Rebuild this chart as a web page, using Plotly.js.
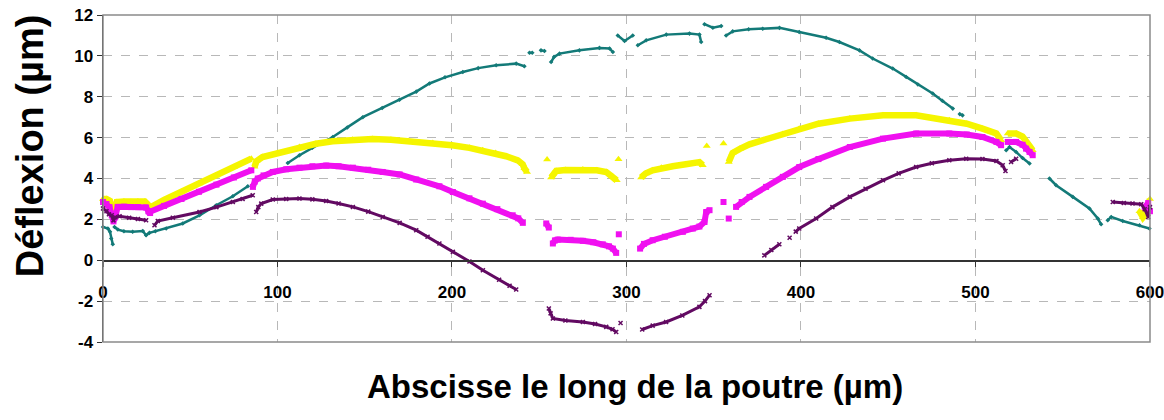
<!DOCTYPE html>
<html>
<head>
<meta charset="utf-8">
<script src="https://cdn.plot.ly/plotly-3.0.1.min.js"></script>
<style>html,body{margin:0;padding:0;background:#fff;}#chart{width:1164px;height:420px;}</style>
</head>
<body>
<div id="chart"></div>
<script>
// ---- Data (null separates disjoint point groups) ----
const yellowX = [0,2,4,5,6,7,8,12,16,20,24,25.5,27, 27.5,35,45,55,65,75,85, null,
  86.8,88,91.4,100,112.6,122,131.6,143,154.5,165,175,189,200,210,217.6,225,231,237.7,240.5,241.5,243, null,
  254.5, null,
  256.8,258,259.7,265,275,283,288.4,292,294.4, null,
  295.4, null,
  308.4,311,315,320,326.5,334,341.8,343.7, null,
  346, null, 355.6, null,
  358.6,360.8,365,370.5,380,389.6,399,410,428,447,466,485,495,504,512,514.7, null,
  518.5,523.3,527,529,531,532.8, null,
  594,596,598,600];
const yellowY = [3.0,3.0,2.9,2.5,2.2,2.3,2.85,2.88,2.85,2.88,2.87,2.75,2.55, 2.6,2.95,3.35,3.75,4.15,4.55,4.97, null,
  4.57,4.85,5.05,5.25,5.54,5.7,5.82,5.9,5.93,5.9,5.83,5.74,5.63,5.5,5.38,5.25,5.09,4.89,4.7,4.5,4.32, null,
  4.93, null,
  4.05,4.25,4.37,4.42,4.44,4.4,4.32,4.11,3.91, null,
  4.94, null,
  4.05,4.25,4.4,4.52,4.6,4.7,4.8,4.65, null,
  5.59, null, 5.71, null,
  4.81,5.25,5.45,5.67,5.92,6.18,6.44,6.68,6.93,7.09,7.09,6.85,6.68,6.44,6.2,5.87, null,
  6.2,6.2,6.05,5.87,5.6,5.38, null,
  2.4,2.1,2.3,3.0];

const magentaX = [0,2,3.7,5,6,7,8.4,12,16,20,24.7,26,27, 26.6,35,45,55,65,75,85, null,
  85.9,87,88.7,92,97.3,105,112.6,120,127.9,135,143.2,152,160.3,170,179.5,192.8,200.5,210,217.7,226,234.8,238,240.6, null,
  254,255.5, null,
  257.8,259,260.6,268,275,281,286.4,290,292.2,294.1, null,
  295.6, null,
  307.8,310,315,322,332.3,338,341.8,344.7,345.7,347.6, null,
  355.6, null, 358.6, null,
  362.8,366,370.5,380,389.6,399,410,428,447,466,485,495,504,512,514.7, null,
  518.5,523.3,527,529,531,532.8, null,
  597,599,600];
const magentaY = [2.85,2.75,2.6,2.2,1.9,2.1,2.61,2.62,2.6,2.6,2.58,2.4,2.31, 2.36,2.66,3.0,3.35,3.7,4.05,4.4, null,
  3.59,3.85,4.0,4.15,4.32,4.45,4.53,4.6,4.63,4.6,4.53,4.43,4.32,4.2,3.95,3.62,3.34,3.03,2.77,2.5,2.2,2.05,1.83, null,
  1.8,1.6, null,
  0.82,0.97,1.01,1.0,0.95,0.88,0.78,0.68,0.57,0.36, null,
  1.27, null,
  0.57,0.8,0.98,1.15,1.39,1.55,1.65,1.87,2.36,2.45, null,
  2.85, null, 2.04, null,
  2.61,2.85,3.1,3.59,4.08,4.56,4.95,5.54,5.95,6.2,6.2,6.15,6.03,5.79,5.63, null,
  5.79,5.79,5.65,5.46,5.3,5.14, null,
  2.6,2.8,2.4];

const purpleX = [0,2,3.4,5,6,7,9.5,15,20,24.7, null,
  29.5,31.4,40,55.3,65,74.4,80,85.8, null,
  87.8,89,90.7,97.3,105,112.6,120,127.9,135,143.2,152,160.3,170,179.5,186,192.8,200.5,210,217.7,227,233,236.8, null,
  255.5,256.5,257.8,265,275,282,288.4,292,294.1, null,
  296.6, null,
  309,315,322.7,332,341.8,345,347.6, null,
  379,383,387.6, null,
  393.5, null,
  397,399,408.7,418,428,437,447,456,466,475,485,494.7,504,512,515.6,517.2, null,
  520.4,523.3, null,
  578.7,585,590,595,597,599,600];
const purpleY = [2.53,2.4,2.25,2.2,1.95,2.1,2.15,2.08,2.02,1.96, null,
  1.71,1.92,2.08,2.36,2.6,2.85,3.0,3.18, null,
  2.36,2.6,2.77,2.97,3.0,3.02,2.98,2.9,2.78,2.61,2.38,2.12,1.83,1.47,1.15,0.82,0.41,-0.06,-0.49,-0.95,-1.25,-1.43, null,
  -2.36,-2.6,-2.85,-2.95,-3.02,-3.12,-3.26,-3.38,-3.51, null,
  -3.07, null,
  -3.39,-3.2,-3.02,-2.7,-2.28,-2.0,-1.71, null,
  0.24,0.5,0.78, null,
  1.1, null,
  1.4,1.55,2.04,2.6,3.1,3.5,3.91,4.25,4.56,4.75,4.89,4.97,4.95,4.86,4.65,4.37, null,
  4.81,4.97, null,
  2.85,2.8,2.78,2.74,2.5,2.12,2.6];

const tealX = [0,2.8,4,4.7,5.6, null,
  6.6,8.5,12,17,22.8,24.7,26.6,30,36.2,45.7,55.3,64.9,74.4,83, null,
  105.9,112.6,120,131.7,140,148.9,160,169.9,179.5,187.1,196,206.2,215,225.3,236.8,241.5, null,
  244.4,246, null, 251,253, null,
  256.8,258.5,261.6,273,284.5,290.3,292.2, null,
  295,298.9,303.6, null,
  306.5,311.3,322.8,336.1,341.8,342.8, null,
  344.7,349.5,354.3, null,
  357.1,360.9,370,378.1,387.7,399,414.4,422,433.5,441.1,452.6,460.3,467,475.5,481,487, null,
  491,492.6, null,
  517.6,519.5,523.3,527,531, null,
  542.4,546.2,555.8,565.3,570.1,572, null,
  575.8,577.8,584.4,594,599.7];
const tealY = [1.63,1.55,1.4,1.06,0.78, null,
  1.63,1.5,1.42,1.39,1.43,1.22,1.34,1.42,1.55,1.8,2.2,2.69,3.13,3.62, null,
  4.76,5.14,5.5,6.03,6.5,7.0,7.45,7.85,8.25,8.65,8.95,9.21,9.4,9.54,9.62,9.49, null,
  10.15,10.15, null, 10.27,10.24, null,
  9.7,9.95,10.11,10.27,10.39,10.36,10.19, null,
  11.0,10.73,11.0, null,
  10.52,10.76,11.04,11.09,11.04,10.68, null,
  11.55,11.38,11.46, null,
  11.0,11.2,11.3,11.33,11.37,11.17,10.89,10.68,10.27,9.87,9.38,8.97,8.6,8.16,7.8,7.42, null,
  7.15,7.09, null,
  5.38,5.54,5.3,5.0,4.73, null,
  4.0,3.67,3.1,2.53,2.04,1.76, null,
  1.96,2.12,1.92,1.71,1.55];

const xTicks = [0,100,200,300,400,500,600];
const yTicks = [-4,-2,0,2,4,6,8,10,12];
const xTitle = 'Abscisse le long de la poutre (µm)';
const yTitle = 'Déflexion (µm)';

// ---- Traces ----
const traces = [
  {x: tealX, y: tealY, mode: 'lines+markers', connectgaps: false, cliponaxis: false,
   line: {color: '#137a78', width: 2.5}, marker: {symbol: 'diamond', size: 3.5, color: '#137a78'}, name: 't'},
  {x: yellowX, y: yellowY, mode: 'lines+markers', connectgaps: false, cliponaxis: false,
   line: {color: '#f5f500', width: 6.5}, marker: {symbol: 'triangle-up', size: 7, color: '#f5f500'}, name: 'y'},
  {x: magentaX, y: magentaY, mode: 'lines+markers', connectgaps: false, cliponaxis: false,
   line: {color: '#f010f0', width: 6}, marker: {symbol: 'square', size: 6, color: '#f010f0'}, name: 'm'},
  {x: purpleX, y: purpleY, mode: 'lines+markers', connectgaps: false, cliponaxis: false,
   line: {color: '#620a62', width: 3}, marker: {symbol: 'x-thin-open', size: 4, color: '#620a62', line: {color: '#620a62', width: 1.5}}, name: 'p'}
];

const tickFont = {family: 'Liberation Sans, Arial, sans-serif', size: 17, color: '#000', weight: 'bold'};

const layout = {
  width: 1164, height: 420,
  margin: {l: 103, r: 14, t: 15, b: 78, pad: 0},
  paper_bgcolor: '#fff', plot_bgcolor: '#fff',
  showlegend: false,
  font: {family: 'Liberation Sans, Arial, sans-serif', color: '#000'},
  xaxis: {
    range: [0, 600.02], tickvals: xTicks, ticktext: xTicks.map(String),
    anchor: 'free', position: 0.25,
    showline: true, linecolor: '#333', linewidth: 1.5,
    ticks: 'outside', ticklen: 5, tickcolor: '#333',
    ticklabelstandoff: 11, ticklabeloverflow: 'allow',
    showgrid: true, gridcolor: '#b8b8b8', griddash: 'dash', gridwidth: 1,
    zeroline: false,
    tickfont: tickFont
  },
  yaxis: {
    range: [-4, 12], tickvals: yTicks, ticktext: yTicks.map(String),
    showline: true, linecolor: '#333', linewidth: 1.5,
    ticks: 'outside', ticklen: 5, tickcolor: '#333',
    showgrid: true, gridcolor: '#b8b8b8', griddash: 'dash', gridwidth: 1,
    zeroline: true, zerolinecolor: '#333', zerolinewidth: 1.5,
    tickfont: tickFont
  },
  shapes: [
    {type: 'rect', xref: 'paper', yref: 'paper', x0: 0, x1: 1, y0: 0, y1: 1,
     line: {color: '#8a8a8a', width: 1.5}, layer: 'above'}
  ],
  annotations: [
    {text: '<b>' + xTitle + '</b>', xref: 'paper', yref: 'paper', x: 0.508, y: -0.135,
     xanchor: 'center', yanchor: 'middle', showarrow: false,
     font: {family: 'Liberation Sans, Arial, sans-serif', size: 33, color: '#000'}},
    {text: '<b>' + yTitle + '</b>', xref: 'paper', yref: 'paper', x: -0.069, y: 0.601,
     xanchor: 'center', yanchor: 'middle', showarrow: false, textangle: -90,
     font: {family: 'Liberation Sans, Arial, sans-serif', size: 38, color: '#000'}}
  ]
};

Plotly.newPlot('chart', traces, layout, {staticPlot: true, displayModeBar: false});
</script>
</body>
</html>
